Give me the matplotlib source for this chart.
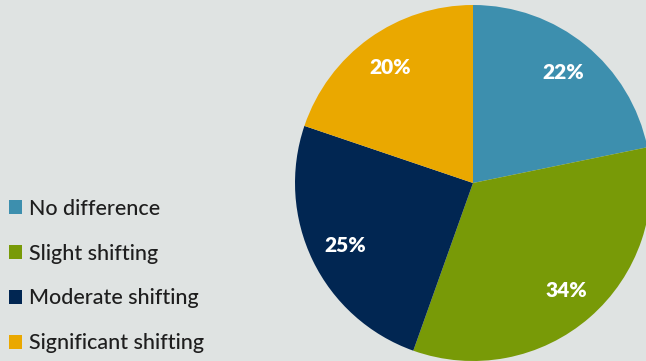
import matplotlib.pyplot as plt
import numpy as np
from matplotlib.patches import Patch

categories = ["No difference", "Slight shifting", "Moderate shifting", "Significant shifting"]
shares = [22, 34, 25, 20]
colors = ["#3d8fae", "#789a07", "#012652", "#eaa800"]
bg = "#dfe3e2"

plt.rcParams['font.family'] = ['Lato', 'DejaVu Sans']

fig = plt.figure(figsize=(6.46, 3.61), dpi=100, facecolor=bg)

# pie axes: centre at (473, 183) px, radius 178 px
cx, cy, r = 473, 183, 178
W, H = 646, 361
ax = fig.add_axes([(cx - r) / W, (H - cy - r) / H, 2 * r / W, 2 * r / H])
ax.set_facecolor(bg)

wedges, _ = ax.pie(shares, colors=colors, startangle=90, counterclock=False,
                   radius=1, wedgeprops=dict(linewidth=0))
ax.set_xlim(-1, 1)
ax.set_ylim(-1, 1)
ax.set_aspect('equal')
ax.axis('off')

for w, v in zip(wedges, shares):
    ang = np.deg2rad((w.theta1 + w.theta2) / 2)
    ax.text(0.8 * np.cos(ang), 0.8 * np.sin(ang), f"{v}%", color='white',
            fontsize=15, fontweight='heavy', ha='center', va='center')

handles = [Patch(facecolor=c, edgecolor='none') for c in colors]
fig.legend(handles, categories, loc='center left', bbox_to_anchor=(-3 / W, (H - 276) / H),
           frameon=False, handlelength=0.62, handleheight=0.62,
           handletextpad=0.3, labelspacing=1.15, borderaxespad=0.0, borderpad=0.55,
           prop=dict(size=15.5, weight='medium'), labelcolor='#1e1e1e')

fig.savefig("out.png", dpi=100, facecolor=bg)
